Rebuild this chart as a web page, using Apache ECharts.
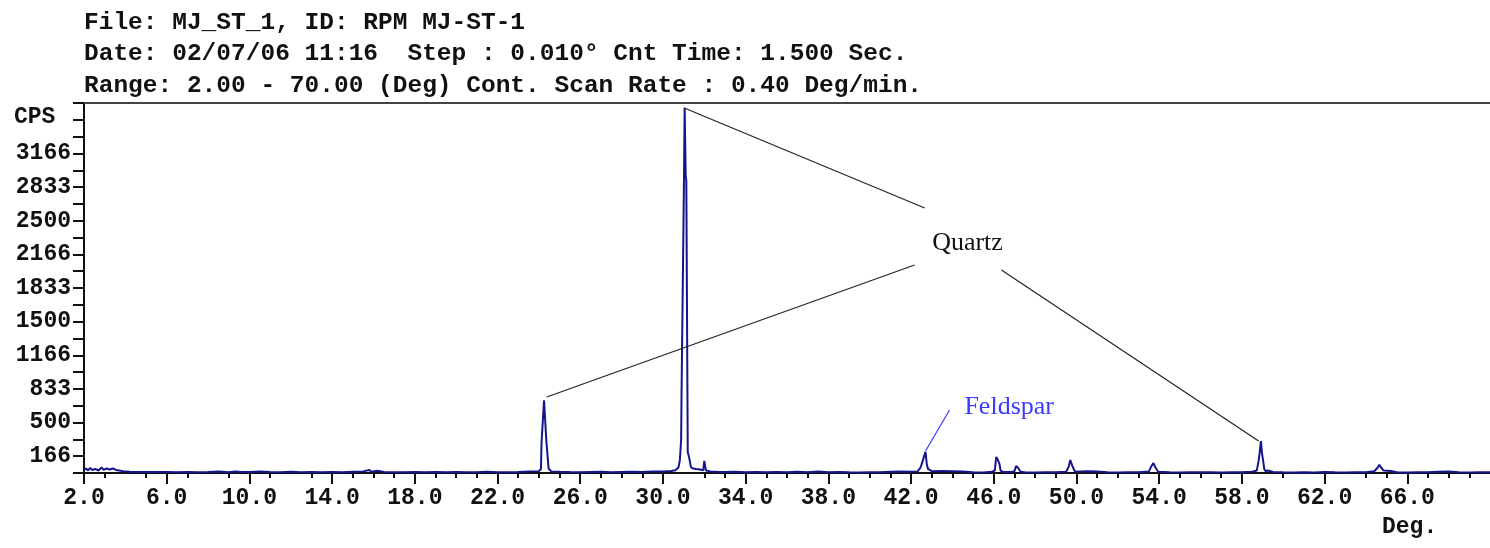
<!DOCTYPE html>
<html>
<head>
<meta charset="utf-8">
<title>MJ_ST_1 XRD scan</title>
<script src="https://cdn.jsdelivr.net/npm/echarts@6/dist/echarts.min.js"></script>
<style>
  html, body { margin: 0; padding: 0; background: #ffffff; }
  #chart { width: 1490px; height: 548px; }
</style>
</head>
<body>
<div id="chart"></div>
<script>
// Header lines of the scan record
const headerLines = [
  'File: MJ_ST_1, ID: RPM MJ-ST-1',
  'Date: 02/07/06 11:16  Step : 0.010\u00b0 Cnt Time: 1.500 Sec.',
  'Range: 2.00 - 70.00 (Deg) Cont. Scan Rate : 0.40 Deg/min.'
];

// Diffraction angle (2-theta, degrees)
const twoTheta = [
  2.00, 2.10, 2.20, 2.30, 2.40, 2.55, 2.70, 2.85, 2.95, 3.10, 3.25, 3.40, 3.55, 3.70, 3.90,
  4.20, 4.60, 5.00, 5.50, 6.00, 6.50, 7.00, 7.50, 8.00, 8.50, 9.00, 9.30, 9.60, 10.00,
  10.50, 11.00, 11.50, 12.00, 12.50, 13.00, 13.50, 14.00, 14.50, 15.00, 15.50, 15.80, 15.90,
  16.20, 16.50, 17.00, 17.50, 18.00, 18.50, 19.00, 19.50, 20.00, 20.50, 21.00, 21.50, 22.00,
  22.50, 23.00, 23.50, 24.00, 24.10, 24.13, 24.22, 24.25, 24.33, 24.36, 24.44, 24.47, 24.60,
  25.00, 25.50, 26.00, 26.50, 27.00, 27.50, 28.00, 28.50, 29.00, 29.50, 30.00, 30.40, 30.60,
  30.75, 30.82, 30.88, 30.90, 30.98, 31.02, 31.05, 31.10, 31.13, 31.20, 31.28, 31.35, 31.45,
  31.60, 31.80, 31.95, 32.00, 32.04, 32.08, 32.30, 32.60, 33.00, 33.50, 34.00, 34.50, 35.00,
  35.50, 36.00, 36.50, 37.00, 37.50, 38.00, 38.50, 39.00, 39.50, 40.00, 40.50, 41.00, 41.50,
  42.00, 42.30, 42.45, 42.55, 42.62, 42.70, 42.76, 42.82, 43.00, 43.50, 44.00, 44.50, 45.00,
  45.50, 45.90, 46.05, 46.12, 46.20, 46.28, 46.33, 46.45, 46.90, 47.00, 47.08, 47.18, 47.30,
  47.50, 48.00, 48.50, 49.00, 49.50, 49.62, 49.70, 49.80, 49.90, 50.00, 50.50, 51.00, 51.50,
  52.00, 52.50, 53.00, 53.50, 53.63, 53.72, 53.82, 53.95, 54.50, 55.00, 55.50, 56.00, 56.50,
  57.00, 57.50, 58.00, 58.50, 58.72, 58.80, 58.86, 58.92, 58.97, 59.03, 59.08, 59.15, 59.25,
  59.35, 59.50, 60.00, 60.50, 61.00, 61.50, 62.00, 62.50, 63.00, 63.50, 64.00, 64.40, 64.55,
  64.65, 64.75, 64.85, 65.20, 65.50, 66.00, 66.50, 67.00, 67.50, 68.00, 68.50, 69.00, 69.50,
  70.00
];

// Intensity (counts per second)
const cps = [
  30, 45, 25, 50, 30, 40, 25, 55, 30, 45, 35, 45, 30, 25, 18,
  12, 10, 9, 10, 9, 8, 9, 7, 9, 14, 7, 16, 9, 11,
  14, 9, 7, 12, 8, 10, 7, 9, 7, 12, 16, 30, 13,
  22, 9, 8, 7, 9, 7, 10, 7, 9, 7, 8, 12, 8,
  7, 10, 14, 18, 40, 310, 320, 720, 715, 320, 310, 45, 16,
  12, 9, 7, 10, 12, 8, 10, 12, 9, 14, 16, 20, 28,
  55, 130, 330, 790, 800, 2950, 3620, 2950, 2900, 210, 140, 60, 45,
  40, 35, 28, 120, 110, 24, 16, 12, 10, 12, 8, 10, 7,
  10, 7, 12, 8, 14, 7, 10, 7, 6, 8, 7, 12, 14,
  12, 14, 50, 110, 160, 210, 90, 40, 18, 20, 18, 14, 7,
  6, 12, 24, 160, 130, 85, 24, 10, 10, 18, 70, 50, 12,
  7, 6, 7, 8, 12, 60, 128, 70, 24, 12, 17, 16, 7,
  6, 7, 8, 14, 70, 98, 55, 12, 7, 6, 7, 8, 7,
  6, 7, 8, 12, 24, 110, 200, 315, 200, 120, 40, 18, 24,
  20, 10, 7, 6, 7, 6, 10, 7, 6, 7, 8, 18, 50,
  80, 50, 24, 20, 8, 6, 7, 8, 12, 14, 7, 6, 7,
  7
];

// Axis tick positions and labels
const xLabelValues = [2, 6, 10, 14, 18, 22, 26, 30, 34, 38, 42, 46, 50, 54, 58, 62, 66];
const xMinorTicks = [3, 5, 7, 9, 11, 13, 15, 16, 17, 19, 20, 21, 23, 24, 25, 27, 28, 29,
  32, 33, 35, 36, 37, 39, 40, 41, 43, 44, 45, 47, 48, 49, 51, 52, 53, 55, 56, 57,
  60, 64, 65, 67, 68, 69];
const yTickValues = [0, 500 / 3, 1000 / 3, 500, 2000 / 3, 2500 / 3, 1000, 3500 / 3, 4000 / 3,
  1500, 5000 / 3, 5500 / 3, 2000, 6500 / 3, 7000 / 3, 2500, 8000 / 3, 8500 / 3, 3000,
  9500 / 3, 10000 / 3, 3500, 11000 / 3];
const yLabelValues = [500 / 3, 500, 2500 / 3, 3500 / 3, 1500, 5500 / 3, 6500 / 3, 2500, 8500 / 3, 9500 / 3];
const yTickLabels = ['166', '500', '833', '1166', '1500', '1833', '2166', '2500', '2833', '3166'];

// Phase annotations: leader lines (from, to) and label anchors in data units
const quartzLeaders = [
  [[31.03, 3617], [42.66, 2626]],
  [[24.38, 753], [42.17, 2061]],
  [[46.37, 2012], [58.81, 317]]
];
const feldsparLeader = [[42.70, 218], [43.86, 624]];
const quartzLabelAt = [44.73, 2279];
const feldsparLabelAt = [44.58, 654];

const monoFont = '"Liberation Mono", "DejaVu Sans Mono", monospace';
const serifFont = '"Liberation Serif", "DejaVu Serif", serif';
const ink = '#111111';
const traceColor = '#14148c';

const chart = echarts.init(document.getElementById('chart'), null, { renderer: 'canvas' });

const baseX = {
  type: 'value', min: 2, max: 70, interval: 1,
  splitLine: { show: false }
};

const option = {
  animation: false,
  backgroundColor: '#ffffff',
  grid: { left: 84, right: -4, top: 103, bottom: 75 },
  xAxis: [
    Object.assign({}, baseX, {
      position: 'bottom',
      axisLine: { show: true, lineStyle: { color: ink, width: 2 } },
      axisTick: { show: true, customValues: xLabelValues, length: 11, lineStyle: { color: ink, width: 2 } },
      axisLabel: {
        show: true, customValues: xLabelValues, margin: 14,
        formatter: v => v.toFixed(1),
        color: ink, fontFamily: monoFont, fontWeight: 'bold', fontSize: 23
      }
    }),
    Object.assign({}, baseX, {
      position: 'bottom',
      axisLine: { show: false },
      axisTick: { show: true, customValues: xMinorTicks, length: 5, lineStyle: { color: ink, width: 2 } },
      axisLabel: { show: false }
    }),
    Object.assign({}, baseX, {
      position: 'top',
      axisLine: { show: true, lineStyle: { color: '#444444', width: 2 } },
      axisTick: { show: false },
      axisLabel: { show: false }
    })
  ],
  yAxis: {
    type: 'value', min: 0, max: 11000 / 3, interval: 500 / 3,
    axisLine: { show: true, lineStyle: { color: ink, width: 2 } },
    axisTick: { show: true, customValues: yTickValues, length: 11, lineStyle: { color: ink, width: 2 } },
    axisLabel: {
      show: true, customValues: yLabelValues, margin: 13,
      formatter: v => yTickLabels[yLabelValues.findIndex(t => Math.abs(t - v) < 1e-6)] || '',
      verticalAlign: 'middle', padding: [0, 0, 14, 0],
      color: ink, fontFamily: monoFont, fontWeight: 'bold', fontSize: 23
    },
    splitLine: { show: false }
  },
  graphic: [
    {
      type: 'group', left: 84, top: 10,
      children: headerLines.map((t, i) => ({
        type: 'text', x: 0, y: i * 31.5,
        style: { text: t, fill: ink, font: 'bold 24.5px ' + monoFont }
      }))
    },
    {
      type: 'text', left: 14, top: 106,
      style: { text: 'CPS', fill: ink, font: 'bold 23px ' + monoFont }
    },
    {
      type: 'text', left: 1382, top: 516,
      style: { text: 'Deg.', fill: ink, font: 'bold 23px ' + monoFont }
    }
  ],
  series: [{
    type: 'line',
    data: twoTheta.map((x, i) => [x, cps[i]]),
    showSymbol: false,
    symbol: 'none',
    clip: false,
    lineStyle: { color: traceColor, width: 2 },
    z: 3,
    markLine: {
      silent: true,
      symbol: 'none',
      animation: false,
      label: { show: false },
      lineStyle: { color: '#222222', width: 1.2, type: 'solid' },
      data: quartzLeaders.map(([a, b]) => [{ coord: a }, { coord: b }]).concat([
        [{ coord: feldsparLeader[0], lineStyle: { color: '#3a3aff', width: 1.2 } },
         { coord: feldsparLeader[1] }]
      ])
    },
    markPoint: {
      silent: true,
      symbol: 'circle',
      symbolSize: 0,
      animation: false,
      data: [
        {
          coord: quartzLabelAt,
          label: {
            show: true, position: 'inside', formatter: 'Quartz',
            color: ink, fontFamily: serifFont, fontSize: 26
          }
        },
        {
          coord: feldsparLabelAt,
          label: {
            show: true, position: 'inside', align: 'left', formatter: 'Feldspar',
            color: '#3a3aff', fontFamily: serifFont, fontSize: 26
          }
        }
      ]
    }
  }]
};

chart.setOption(option);
</script>
</body>
</html>
